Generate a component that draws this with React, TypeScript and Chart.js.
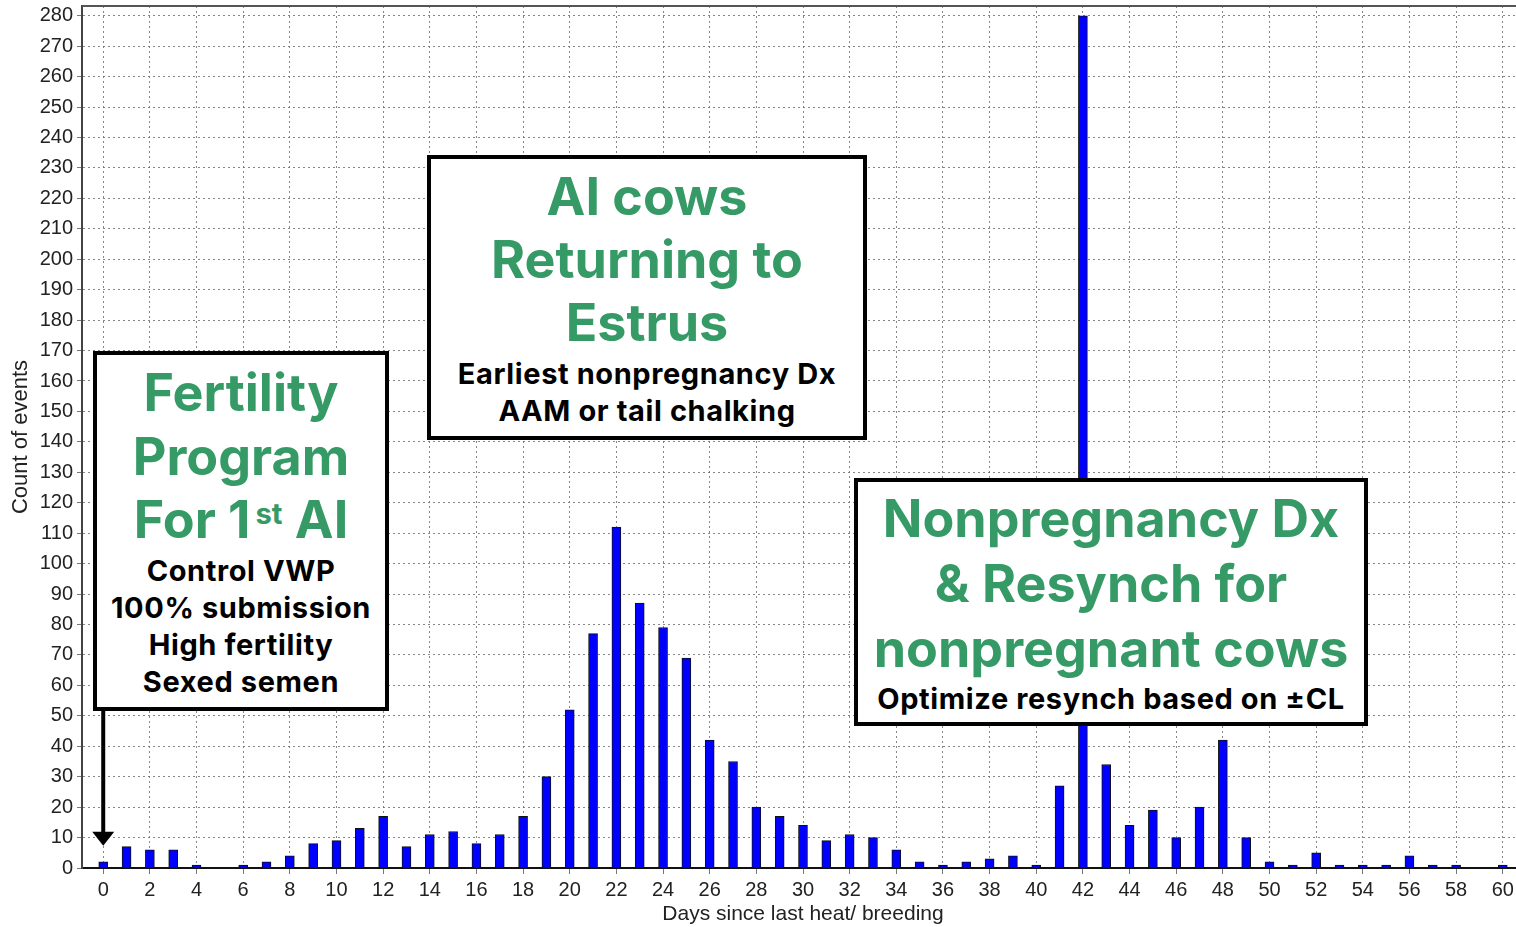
import React, { useEffect, useRef } from 'react';
import { Chart, registerables } from 'chart.js';

Chart.register(...registerables);

// ---- data ----
const days = [
  0, 1, 2, 3, 4, 5, 6, 7, 8, 9, 10, 11, 12, 13, 14, 15, 16, 17, 18, 19, 20,
  21, 22, 23, 24, 25, 26, 27, 28, 29, 30, 31, 32, 33, 34, 35, 36, 37, 38, 39, 40,
  41, 42, 43, 44, 45, 46, 47, 48, 49, 50, 51, 52, 53, 54, 55, 56, 57, 58, 59, 60,
];
const counts = [
  2, 7, 6, 6, 1, 0, 1, 2, 4, 8, 9, 13, 17, 7, 11, 12, 8, 11, 17, 30, 52,
  77, 112, 87, 79, 69, 42, 35, 20, 17, 14, 9, 11, 10, 6, 2, 1, 2, 3, 4, 1,
  27, 280, 34, 14, 19, 10, 20, 42, 10, 2, 1, 5, 1, 1, 1, 4, 1, 1, 0, 1,
];
const xTicks = [
  0, 2, 4, 6, 8, 10, 12, 14, 16, 18, 20, 22, 24, 26, 28, 30,
  32, 34, 36, 38, 40, 42, 44, 46, 48, 50, 52, 54, 56, 58, 60,
];
const yTicks = [
  0, 10, 20, 30, 40, 50, 60, 70, 80, 90, 100, 110, 120, 130, 140, 150,
  160, 170, 180, 190, 200, 210, 220, 230, 240, 250, 260, 270, 280,
];
const xTitle = 'Days since last heat/ breeding';
const yTitle = 'Count of events';

const W = 1516;
const H = 927;
const CANVAS_W = 1524; // slightly wider than the page; the plot runs off the right edge
const GREEN = '#359a66';
const BOX_FONT = 'Inter, "Open Sans", "DejaVu Sans", sans-serif';
const AXIS_FONT = '"Liberation Sans", Arial, sans-serif';

type Line = { content: React.ReactNode; baseline: number; size: number; color: string; spacing: number };
type Box = { left: number; top: number; width: number; height: number; lines: Line[] };

const G = 52; // green font size
const B = 29; // black font size
const GS = 0;
const BS = 0.6;

const boxes: Box[] = [
  {
    left: 93, top: 351, width: 296, height: 360,
    lines: [
      { content: 'Fertility', baseline: 412, size: G, color: GREEN, spacing: GS },
      { content: 'Program', baseline: 476, size: G, color: GREEN, spacing: GS },
      {
        content: (
          <>
            For 1
            <span
              style={{
                fontSize: '0.56em',
                position: 'relative',
                top: '-0.46em',
                marginLeft: 5,
                lineHeight: 0,
              }}
            >
              st
            </span>
            {' '}AI
          </>
        ),
        baseline: 539, size: G, color: GREEN, spacing: GS,
      },
      { content: 'Control VWP', baseline: 581, size: B, color: '#000', spacing: BS },
      { content: '100% submission', baseline: 618, size: B, color: '#000', spacing: BS },
      { content: 'High fertility', baseline: 655, size: B, color: '#000', spacing: BS },
      { content: 'Sexed semen', baseline: 692, size: B, color: '#000', spacing: BS },
    ],
  },
  {
    left: 427, top: 155, width: 440, height: 285,
    lines: [
      { content: 'AI cows', baseline: 216, size: G, color: GREEN, spacing: GS },
      { content: 'Returning to', baseline: 279, size: G, color: GREEN, spacing: GS },
      { content: 'Estrus', baseline: 342, size: G, color: GREEN, spacing: GS },
      { content: 'Earliest nonpregnancy Dx', baseline: 384, size: B, color: '#000', spacing: BS },
      { content: 'AAM or tail chalking', baseline: 421, size: B, color: '#000', spacing: BS },
    ],
  },
  {
    left: 854, top: 478, width: 514, height: 248,
    lines: [
      { content: 'Nonpregnancy Dx', baseline: 538, size: G, color: GREEN, spacing: GS },
      { content: '& Resynch for', baseline: 603, size: G, color: GREEN, spacing: GS },
      { content: 'nonpregnant cows', baseline: 668, size: G, color: GREEN, spacing: GS },
      { content: 'Optimize resynch based on ±CL', baseline: 709, size: B, color: '#000', spacing: BS },
    ],
  },
];

const decorPlugin = {
  id: 'decor',
  afterDraw(chart: any) {
    const { ctx, chartArea, scales } = chart;
    ctx.save();
    // top frame line
    ctx.strokeStyle = '#555';
    ctx.lineWidth = 2;
    ctx.beginPath();
    ctx.moveTo(chartArea.left, chartArea.top);
    ctx.lineTo(chartArea.right, chartArea.top);
    ctx.stroke();
    // arrow from the fertility box down to day 0
    const ax = scales.x.getPixelForValue(0);
    const tipY = scales.y.getPixelForValue(7.3);
    const startY = boxes[0].top + boxes[0].height - 2;
    ctx.strokeStyle = '#000';
    ctx.fillStyle = '#000';
    ctx.lineWidth = 4;
    ctx.beginPath();
    ctx.moveTo(ax, startY);
    ctx.lineTo(ax, tipY - 12);
    ctx.stroke();
    ctx.beginPath();
    ctx.moveTo(ax - 11, tipY - 14);
    ctx.lineTo(ax + 11, tipY - 14);
    ctx.lineTo(ax, tipY);
    ctx.closePath();
    ctx.fill();
    ctx.restore();
  },
};

export default function App() {
  const canvasRef = useRef<HTMLCanvasElement | null>(null);

  useEffect(() => {
    if (!canvasRef.current) return;
    const gridColor = 'rgba(105,105,105,0.8)';
    const chart = new Chart(canvasRef.current, {
      type: 'bar',
      data: {
        datasets: [
          {
            data: days.map((d, i) => ({ x: d, y: counts[i] })),
            backgroundColor: '#0000ff',
            borderColor: '#101010',
            borderWidth: 1,
            barThickness: 9,
            borderSkipped: 'start',
          },
        ],
      },
      options: {
        responsive: false,
        animation: false,
        layout: { padding: { top: 6, right: 0, left: 0, bottom: 0 } },
        plugins: { legend: { display: false }, tooltip: { enabled: false } },
        scales: {
          x: {
            type: 'linear',
            offset: false,
            min: -0.91,
            max: 60.91,
            afterBuildTicks: (s: any) => {
              s.ticks = xTicks.map((v) => ({ value: v }));
            },
            afterFit: (s: any) => {
              s.height = 59;
              s.paddingLeft = 0;
              s.paddingRight = 0;
            },
            ticks: {
              font: { family: AXIS_FONT, size: 20 },
              color: '#222',
              padding: 4,
              autoSkip: false,
              maxRotation: 0,
              callback: (v: any) => String(v),
            },
            grid: {
              offset: false,
              color: (c: any) => (c.tick && xTicks.includes(c.tick.value) ? gridColor : 'rgba(0,0,0,0)'),
              lineWidth: 1,
              tickLength: 6,
              tickColor: '#777',
            },
            border: { display: true, color: '#111', width: 2, dash: [2, 3] },
            title: {
              display: true,
              text: xTitle,
              font: { family: AXIS_FONT, size: 21 },
              color: '#222',
              padding: { top: 0, bottom: 0 },
            },
          },
          y: {
            type: 'linear',
            min: 0,
            max: 283.2,
            afterBuildTicks: (s: any) => {
              s.ticks = yTicks.map((v) => ({ value: v }));
            },
            afterFit: (s: any) => {
              s.width = 82;
              s.paddingTop = 0;
              s.paddingBottom = 0;
            },
            ticks: {
              font: { family: AXIS_FONT, size: 20 },
              color: '#222',
              padding: 4,
              autoSkip: false,
              callback: (v: any) => String(v),
            },
            grid: { color: gridColor, lineWidth: 1, tickLength: 5, tickColor: '#777' },
            border: { display: true, color: '#444', width: 2, dash: [2, 3] },
            title: {
              display: true,
              text: yTitle,
              font: { family: AXIS_FONT, size: 22 },
              color: '#222',
              padding: { top: 8, bottom: 0 },
            },
          },
        },
      },
      plugins: [decorPlugin],
    } as any);
    return () => chart.destroy();
  }, []);

  return (
    <div style={{ position: 'absolute', left: 0, top: 0, width: W, height: H, background: '#fff', overflow: 'hidden' }}>
      <canvas
        ref={canvasRef}
        width={CANVAS_W}
        height={H}
        style={{ position: 'absolute', left: 0, top: 0, width: CANVAS_W, height: H }}
      />
      {boxes.map((b, bi) => (
        <div
          key={'box' + bi}
          style={{
            position: 'absolute',
            left: b.left,
            top: b.top,
            width: b.width,
            height: b.height,
            boxSizing: 'border-box',
            border: '4px solid #000',
            background: '#fff',
          }}
        />
      ))}
      {boxes.map((b, bi) =>
        b.lines.map((l, li) => (
          <div
            key={'l' + bi + '-' + li}
            style={{
              position: 'absolute',
              left: b.left,
              width: b.width,
              top: l.baseline - 0.969 * l.size,
              fontFamily: BOX_FONT,
              fontWeight: 700,
              fontSize: l.size,
              lineHeight: 1.21,
              letterSpacing: l.spacing,
              color: l.color,
              textAlign: 'center',
              whiteSpace: 'nowrap',
            }}
          >
            {l.content}
          </div>
        ))
      )}
    </div>
  );
}
